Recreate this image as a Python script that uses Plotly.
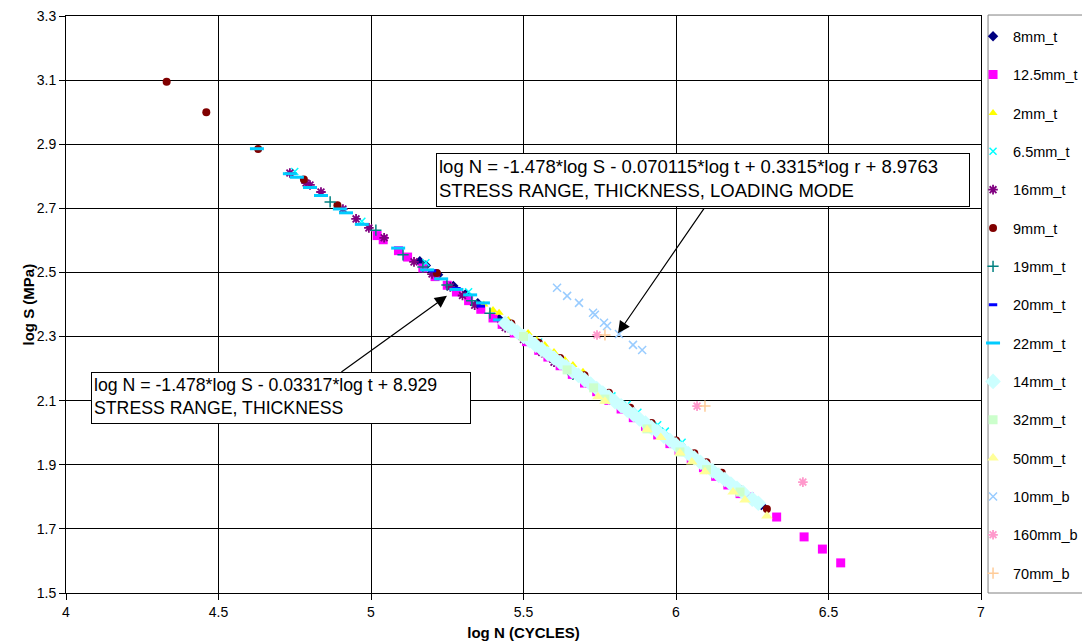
import plotly.graph_objects as go

# ---------------- data ----------------
s8_x = [5.16, 5.18, 5.22, 5.27, 5.31, 5.35, 5.42, 5.48, 5.52, 5.62, 5.78, 5.97, 6.18, 6.28]
s8_y = [2.535, 2.522, 2.493, 2.458, 2.432, 2.404, 2.355, 2.316, 2.287, 2.222, 2.112, 1.984, 1.842, 1.774]

s125_x = [5.02, 5.04, 5.09, 5.12, 5.17, 5.21, 5.25, 5.28, 5.32, 5.36, 5.40, 5.43, 5.47, 5.51,
          5.55, 5.58, 5.62, 5.66, 5.70, 5.74, 5.78, 5.82, 5.86, 5.90, 5.94, 5.98, 6.01, 6.05,
          6.09, 6.13, 6.17, 6.21, 6.24, 6.33, 6.42, 6.48, 6.54]
s125_y = [2.615, 2.602, 2.568, 2.548, 2.514, 2.487, 2.460, 2.439, 2.412, 2.385, 2.358, 2.338,
          2.311, 2.284, 2.257, 2.236, 2.209, 2.182, 2.155, 2.128, 2.101, 2.074, 2.047, 2.020,
          1.993, 1.966, 1.945, 1.918, 1.891, 1.864, 1.837, 1.810, 1.800, 1.737, 1.675, 1.637, 1.594]

s2_x = [5.37, 5.40, 5.42, 5.45, 5.515, 5.544, 5.57, 5.60, 5.636, 5.662, 5.695]
s2_y = [2.400, 2.383, 2.374, 2.352, 2.311, 2.289, 2.274, 2.252, 2.227, 2.211, 2.190]

s65_x = [4.75, 4.97, 5.18, 5.32, 5.55, 5.79, 5.84, 5.875, 5.94, 5.965, 6.02]
s65_y = [2.815, 2.660, 2.530, 2.440, 2.283, 2.115, 2.088, 2.064, 2.025, 2.005, 1.970]

s16_x = [4.734, 4.787, 4.80, 4.836, 4.908, 4.951, 4.993, 5.043, 5.141, 5.20, 5.26, 5.30,
         5.34, 5.44, 5.50, 5.56, 5.60]
s16_y = [2.810, 2.779, 2.773, 2.751, 2.698, 2.667, 2.639, 2.608, 2.533, 2.495, 2.455, 2.428,
         2.398, 2.328, 2.291, 2.250, 2.220]

s9_x = [4.33, 4.46, 4.63, 4.78, 4.89, 5.216, 5.46, 5.55, 5.62, 5.70, 5.78, 5.85, 5.92, 6.00,
        6.06, 6.10, 6.15, 6.207, 6.298]
s9_y = [3.095, 3.000, 2.885, 2.790, 2.710, 2.498, 2.341, 2.281, 2.233, 2.179, 2.125, 2.078,
        2.030, 1.976, 1.936, 1.908, 1.875, 1.825, 1.762]

s19_x = [4.866, 5.016, 5.105, 5.17, 5.249, 5.33, 5.39, 5.45, 5.662, 5.90]
s19_y = [2.720, 2.632, 2.555, 2.517, 2.461, 2.412, 2.373, 2.330, 2.182, 2.030]

s20_x = [5.20, 5.28, 5.36, 5.47, 5.52, 5.77, 5.95, 6.07, 6.226]
s20_y = [2.505, 2.450, 2.395, 2.314, 2.283, 2.115, 1.995, 1.915, 1.803]

s22_x = [4.626, 4.734, 4.757, 4.80, 4.836, 4.898, 4.918, 4.97, 5.089, 5.184, 5.23, 5.28,
         5.325, 5.367, 5.423, 5.46]
s22_y = [2.886, 2.808, 2.797, 2.765, 2.740, 2.698, 2.686, 2.650, 2.576, 2.508, 2.480, 2.447,
         2.430, 2.405, 2.352, 2.327]

s14_x = [5.44, 5.46, 5.48, 5.50, 5.52, 5.54, 5.56, 5.58, 5.60, 5.62, 5.64, 5.66, 5.68, 5.70,
         5.72, 5.74, 5.76, 5.78, 5.80, 5.82, 5.84, 5.86, 5.88, 5.90, 5.92, 5.94, 5.96, 5.98,
         6.00, 6.02, 6.04, 6.06, 6.08, 6.10, 6.12, 6.14, 6.16, 6.18, 6.20, 6.22, 6.25, 6.27]
s14_y = [2.341, 2.327, 2.314, 2.300, 2.287, 2.273, 2.260, 2.246, 2.233, 2.219, 2.206, 2.192,
         2.179, 2.165, 2.152, 2.138, 2.124, 2.111, 2.097, 2.084, 2.070, 2.057, 2.043, 2.030,
         2.016, 2.003, 1.989, 1.976, 1.962, 1.949, 1.935, 1.921, 1.908, 1.894, 1.881, 1.867,
         1.854, 1.840, 1.827, 1.813, 1.793, 1.780]

s32_x = [5.50, 5.643, 5.73, 5.767, 5.905, 6.013, 6.10, 6.21]
s32_y = [2.300, 2.196, 2.140, 2.105, 2.012, 1.940, 1.885, 1.815]

s50_x = [5.744, 5.767, 5.905, 5.95, 6.013, 6.052, 6.095, 6.187, 6.226, 6.298]
s50_y = [2.112, 2.098, 2.009, 1.985, 1.937, 1.909, 1.878, 1.815, 1.790, 1.740]

s10b_x = [5.610, 5.643, 5.682, 5.728, 5.734, 5.764, 5.774, 5.813, 5.859, 5.889]
s10b_y = [2.452, 2.427, 2.405, 2.374, 2.368, 2.343, 2.333, 2.308, 2.274, 2.258]

s160b_x = [5.741, 6.069, 6.416]
s160b_y = [2.305, 2.083, 1.846]

s70b_x = [5.767, 6.095]
s70b_y = [2.305, 2.083]

x_ticks = [4, 4.5, 5, 5.5, 6, 6.5, 7]
y_ticks = [1.5, 1.7, 1.9, 2.1, 2.3, 2.5, 2.7, 2.9, 3.1, 3.3]

eq1_text = "log N = -1.478*log S - 0.070115*log t + 0.3315*log r + 8.9763<br>STRESS RANGE, THICKNESS, LOADING MODE"
eq2_text = "log N = -1.478*log S - 0.03317*log t + 8.929<br>STRESS RANGE, THICKNESS"

# ---------------- figure ----------------
FONT = "Arial, Liberation Sans, sans-serif"

series = [
    ("8mm_t", s8_x, s8_y, dict(symbol="diamond", size=8, color="#000080")),
    ("12.5mm_t", s125_x, s125_y, dict(symbol="square", size=9, color="#FF00FF")),
    ("2mm_t", s2_x, s2_y, dict(symbol="triangle-up", size=8, color="#FFFF00")),
    ("6.5mm_t", s65_x, s65_y, dict(symbol="x-thin-open", size=7, color="#00FFFF",
                                    line=dict(color="#00FFFF", width=1.5))),
    ("16mm_t", s16_x, s16_y, dict(symbol="asterisk-open", size=8, color="#800080",
                                   line=dict(color="#800080", width=1.8))),
    ("9mm_t", s9_x, s9_y, dict(symbol="circle", size=8, color="#800000")),
    ("19mm_t", s19_x, s19_y, dict(symbol="cross-thin-open", size=8, color="#008080",
                                   line=dict(color="#008080", width=1.5))),
    ("20mm_t", s20_x, s20_y, dict(symbol="line-ew-open", size=6, color="#0000FF",
                                   line=dict(color="#0000FF", width=3))),
    ("22mm_t", s22_x, s22_y, dict(symbol="line-ew-open", size=10, color="#00CCFF",
                                   line=dict(color="#00CCFF", width=3))),
    ("14mm_t", s14_x, s14_y, dict(symbol="diamond", size=12, color="#CCFFFF")),
    ("32mm_t", s32_x, s32_y, dict(symbol="square", size=9, color="#CCFFCC")),
    ("50mm_t", s50_x, s50_y, dict(symbol="triangle-up", size=10, color="#FFFF99")),
    ("10mm_b", s10b_x, s10b_y, dict(symbol="x-thin-open", size=8, color="#99CCFF",
                                     line=dict(color="#99CCFF", width=1.5))),
    ("160mm_b", s160b_x, s160b_y, dict(symbol="asterisk-open", size=8, color="#FF99CC",
                                        line=dict(color="#FF99CC", width=1.8))),
    ("70mm_b", s70b_x, s70b_y, dict(symbol="cross-thin-open", size=8, color="#FFCC99",
                                     line=dict(color="#FFCC99", width=1.5))),
]

fig = go.Figure()
for i, (name, xs, ys, mk) in enumerate(series):
    fig.add_trace(go.Scatter(x=xs, y=ys, mode="markers", name=name, marker=mk,
                             legendgroup=f"g{i}"))

axis_common = dict(showgrid=True, gridcolor="#000000", gridwidth=1,
                   showline=True, linecolor="#000000", linewidth=1, mirror=True,
                   ticks="outside", ticklen=6, tickcolor="#000000",
                   tickfont=dict(family=FONT, size=14, color="#000000"),
                   zeroline=False)

fig.update_layout(
    width=1082, height=643,
    margin=dict(l=66, r=101, t=16, b=50, autoexpand=False),
    paper_bgcolor="white", plot_bgcolor="white",
    font=dict(family=FONT, color="#000000"),
    xaxis=dict(range=[4, 7], tickvals=x_ticks, ticktext=[f"{v:g}" for v in x_ticks],
               title=dict(text="<b>log N (CYCLES)</b>", font=dict(family=FONT, size=15), standoff=8),
               **axis_common),
    yaxis=dict(range=[1.5, 3.3], tickvals=y_ticks, ticktext=[f"{v:.1f}" for v in y_ticks],
               **axis_common),
    legend=dict(x=0.9913, y=0.9925, xanchor="left", yanchor="top",
                borderwidth=0, bgcolor="rgba(0,0,0,0)",
                font=dict(family=FONT, size=14.5, color="#000000"),
                tracegroupgap=16.5, itemwidth=30),
    showlegend=True,
)

# legend frame (Excel-style box, running off the right edge)
fig.add_shape(type="rect", xref="paper", yref="paper", x0=1.0077, x1=1.2, y0=0, y1=1.0017,
              line=dict(color="#808080", width=1), fillcolor="rgba(0,0,0,0)", layer="below")

# y-axis title
fig.add_annotation(x=-0.0415, y=0.5, xref="paper", yref="paper", xanchor="center", yanchor="middle",
                   text="<b>log S (MPa)</b>", textangle=-90, showarrow=False,
                   font=dict(family=FONT, size=15, color="#000000"))

fig.add_annotation(x=5.81, y=2.31, ax=6.095, ay=2.704, xref="x", yref="y", axref="x", ayref="y",
                   text="", showarrow=True, arrowhead=2, arrowsize=2, arrowwidth=1.2,
                   arrowcolor="#000000")
fig.add_annotation(x=5.249, y=2.427, ax=4.898, ay=2.186, xref="x", yref="y", axref="x", ayref="y",
                   text="", showarrow=True, arrowhead=2, arrowsize=2, arrowwidth=1.2,
                   arrowcolor="#000000")

fig.add_annotation(x=5.213, y=2.873, xref="x", yref="y", xanchor="left", yanchor="top",
                   text=eq1_text, showarrow=False, align="left", valign="top",
                   width=528, height=48, borderpad=2,
                   bordercolor="#000000", borderwidth=1, bgcolor="white",
                   font=dict(family=FONT, size=18.5, color="#000000"))
fig.add_annotation(x=4.082, y=2.190, xref="x", yref="y", xanchor="left", yanchor="top",
                   text=eq2_text, showarrow=False, align="left", valign="top",
                   width=374, height=46, borderpad=2,
                   bordercolor="#000000", borderwidth=1, bgcolor="white",
                   font=dict(family=FONT, size=17.7, color="#000000"))

fig.write_html("out.html")
